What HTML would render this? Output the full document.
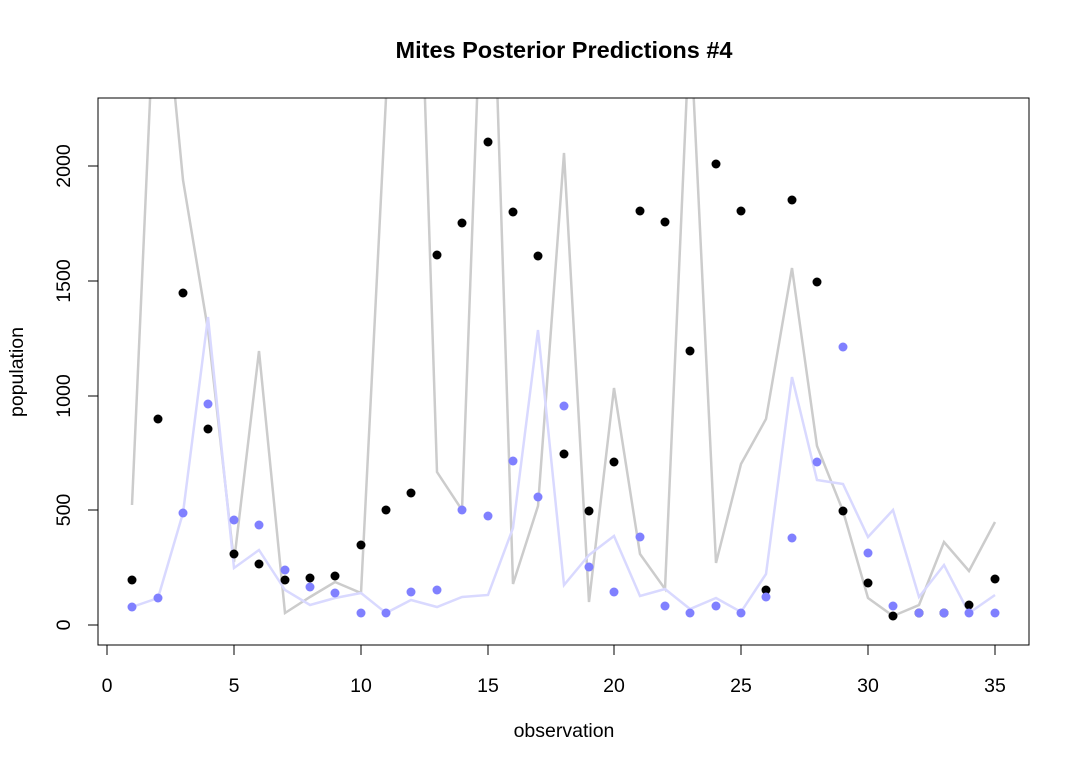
<!DOCTYPE html>
<html><head><meta charset="utf-8"><style>body{margin:0;background:#fff}svg{display:block}</style></head><body>
<svg width="1080" height="768" xmlns="http://www.w3.org/2000/svg" font-family="Liberation Sans, sans-serif">
<defs><clipPath id="c"><rect x="98" y="98" width="931" height="547"/></clipPath></defs>
<text x="564" y="58" font-size="23.5" font-weight="bold" text-anchor="middle">Mites Posterior Predictions #4</text>
<g clip-path="url(#c)" fill="none" stroke-width="2.5">
<polyline stroke="#cccccc" points="132,505 158,-80 183,180 208,330 234,562 259,351 285,613 310,597 335,582 361,593 386,98 411,-334 437,472 462,510 488,-200 513,584 538,506 564,153 589,602 614,388 640,554 665,589 690,20 716,563 741,464 766,419 792,268 817,446 843,511 868,598 893,616 919,605 944,542 969,571 995,522"/>
<polyline stroke="#d9d9ff" points="132,607 158,598 183,513 208,317 234,568 259,550 285,590 310,605 335,598 361,593 386,613 411,600 437,607 462,597 488,595 513,528 538,330 564,585 589,555 614,536 640,596 665,589 690,609 716,598 741,612 766,574 792,377 817,480 843,484 868,537 893,510 919,597 944,565 969,613 995,595"/>
</g>
<g fill="#000">
<circle cx="132" cy="580" r="4.5"/><circle cx="158" cy="419" r="4.5"/><circle cx="183" cy="293" r="4.5"/><circle cx="208" cy="429" r="4.5"/><circle cx="234" cy="554" r="4.5"/><circle cx="259" cy="564" r="4.5"/><circle cx="285" cy="580" r="4.5"/><circle cx="310" cy="578" r="4.5"/><circle cx="335" cy="576" r="4.5"/><circle cx="361" cy="545" r="4.5"/><circle cx="386" cy="510" r="4.5"/><circle cx="411" cy="493" r="4.5"/><circle cx="437" cy="255" r="4.5"/><circle cx="462" cy="223" r="4.5"/><circle cx="488" cy="142" r="4.5"/><circle cx="513" cy="212" r="4.5"/><circle cx="538" cy="256" r="4.5"/><circle cx="564" cy="454" r="4.5"/><circle cx="589" cy="511" r="4.5"/><circle cx="614" cy="462" r="4.5"/><circle cx="640" cy="211" r="4.5"/><circle cx="665" cy="222" r="4.5"/><circle cx="690" cy="351" r="4.5"/><circle cx="716" cy="164" r="4.5"/><circle cx="741" cy="211" r="4.5"/><circle cx="766" cy="590" r="4.5"/><circle cx="792" cy="200" r="4.5"/><circle cx="817" cy="282" r="4.5"/><circle cx="843" cy="511" r="4.5"/><circle cx="868" cy="583" r="4.5"/><circle cx="893" cy="616" r="4.5"/><circle cx="919" cy="613" r="4.5"/><circle cx="944" cy="613" r="4.5"/><circle cx="969" cy="605" r="4.5"/><circle cx="995" cy="579" r="4.5"/>
</g>
<g fill="#8080ff">
<circle cx="132" cy="607" r="4.5"/><circle cx="158" cy="598" r="4.5"/><circle cx="183" cy="513" r="4.5"/><circle cx="208" cy="404" r="4.5"/><circle cx="234" cy="520" r="4.5"/><circle cx="259" cy="525" r="4.5"/><circle cx="285" cy="570" r="4.5"/><circle cx="310" cy="587" r="4.5"/><circle cx="335" cy="593" r="4.5"/><circle cx="361" cy="613" r="4.5"/><circle cx="386" cy="613" r="4.5"/><circle cx="411" cy="592" r="4.5"/><circle cx="437" cy="590" r="4.5"/><circle cx="462" cy="510" r="4.5"/><circle cx="488" cy="516" r="4.5"/><circle cx="513" cy="461" r="4.5"/><circle cx="538" cy="497" r="4.5"/><circle cx="564" cy="406" r="4.5"/><circle cx="589" cy="567" r="4.5"/><circle cx="614" cy="592" r="4.5"/><circle cx="640" cy="537" r="4.5"/><circle cx="665" cy="606" r="4.5"/><circle cx="690" cy="613" r="4.5"/><circle cx="716" cy="606" r="4.5"/><circle cx="741" cy="613" r="4.5"/><circle cx="766" cy="597" r="4.5"/><circle cx="792" cy="538" r="4.5"/><circle cx="817" cy="462" r="4.5"/><circle cx="843" cy="347" r="4.5"/><circle cx="868" cy="553" r="4.5"/><circle cx="893" cy="606" r="4.5"/><circle cx="919" cy="613" r="4.5"/><circle cx="944" cy="613" r="4.5"/><circle cx="969" cy="613" r="4.5"/><circle cx="995" cy="613" r="4.5"/>
</g>
<rect x="98" y="98" width="931" height="547" fill="none" stroke="#000" stroke-width="1"/>
<g stroke="#000" stroke-width="1">
<line x1="107" y1="645" x2="995" y2="645"/>
<line x1="107" y1="645" x2="107" y2="655"/><line x1="234" y1="645" x2="234" y2="655"/><line x1="361" y1="645" x2="361" y2="655"/><line x1="488" y1="645" x2="488" y2="655"/><line x1="614" y1="645" x2="614" y2="655"/><line x1="741" y1="645" x2="741" y2="655"/><line x1="868" y1="645" x2="868" y2="655"/><line x1="995" y1="645" x2="995" y2="655"/>
<line x1="98" y1="166" x2="98" y2="625"/>
<line x1="88" y1="625" x2="98" y2="625"/><line x1="88" y1="510" x2="98" y2="510"/><line x1="88" y1="396" x2="98" y2="396"/><line x1="88" y1="281" x2="98" y2="281"/><line x1="88" y1="166" x2="98" y2="166"/>
</g>
<g font-size="19.5" text-anchor="middle">
<text x="107" y="692">0</text><text x="234" y="692">5</text><text x="361" y="692">10</text><text x="488" y="692">15</text><text x="614" y="692">20</text><text x="741" y="692">25</text><text x="868" y="692">30</text><text x="995" y="692">35</text>
<text x="564" y="737">observation</text>
<text transform="translate(70,625) rotate(-90)">0</text>
<text transform="translate(70,510) rotate(-90)">500</text>
<text transform="translate(70,396) rotate(-90)">1000</text>
<text transform="translate(70,281) rotate(-90)">1500</text>
<text transform="translate(70,166) rotate(-90)">2000</text>
<text transform="translate(23,372) rotate(-90)">population</text>
</g>
</svg>
</body></html>
